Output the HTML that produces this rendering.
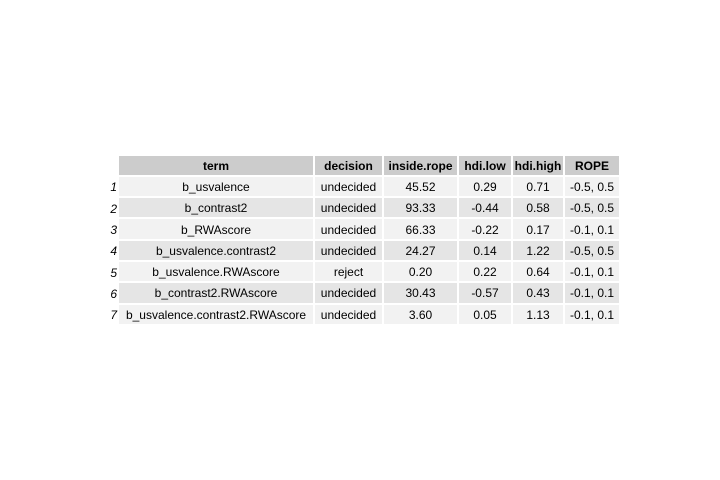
<!DOCTYPE html>
<html><head><meta charset="utf-8"><style>
body{margin:0;width:720px;height:480px;background:#fff;position:relative;overflow:hidden;font-family:"Liberation Sans",Arial,sans-serif;font-size:12px;color:#000}
.c{position:absolute;display:flex;align-items:center;justify-content:center;box-sizing:border-box;white-space:nowrap}
.h{background:#cccccc;font-weight:bold}
.o{background:#f2f2f2}
.e{background:#e5e5e5}
.n{position:absolute;font-style:italic;text-align:right;width:20px;display:flex;align-items:center;justify-content:flex-end}
</style></head><body>
<div id="tbl"></div>
<script>
const headers=["term","decision","inside.rope","hdi.low","hdi.high","ROPE"];
const terms=["b_usvalence","b_contrast2","b_RWAscore","b_usvalence.contrast2","b_usvalence.RWAscore","b_contrast2.RWAscore","b_usvalence.contrast2.RWAscore"];
const decisions=["undecided","undecided","undecided","undecided","reject","undecided","undecided"];
const insideRope=["45.52","93.33","66.33","24.27","0.20","30.43","3.60"];
const hdiLow=["0.29","-0.44","-0.22","0.14","0.22","-0.57","0.05"];
const hdiHigh=["0.71","0.58","0.17","1.22","0.64","0.43","1.13"];
const rope=["-0.5, 0.5","-0.5, 0.5","-0.1, 0.1","-0.5, 0.5","-0.1, 0.1","-0.1, 0.1","-0.1, 0.1"];
const colX=[119,315,384,459,513,565,621];
const top0=155.5, rh=21.3;
const t=document.getElementById('tbl');
function cell(txt,ci,ri,cls){
  const d=document.createElement('div');
  d.className='c '+cls;
  d.style.left=colX[ci]+'px';
  d.style.width=(colX[ci+1]-colX[ci]-2)+'px';
  d.style.top=(top0+ri*rh)+'px';
  d.style.height=(rh-2)+'px';
  d.style.paddingTop='1px';
  d.textContent=txt;
  return d;
}
headers.forEach((h,i)=>{
  const d=cell(h,i,0,'h');
  
  
  t.appendChild(d);
});
terms.forEach((tm,r)=>{
  const vals=[tm,decisions[r],insideRope[r],hdiLow[r],hdiHigh[r],rope[r]];
  const cls=r%2===0?'o':'e';
  const n=document.createElement('div');
  n.className='n';
  n.style.left='97px';n.style.top=(top0+(r+1)*rh+1)+'px';n.style.height=(rh-2)+'px';
  n.textContent=String(r+1);
  
  
  t.appendChild(n);
  vals.forEach((v,i)=>{
    const d=cell(v,i,r+1,cls);
    
    
    t.appendChild(d);
  });
});
</script>
</body></html>
